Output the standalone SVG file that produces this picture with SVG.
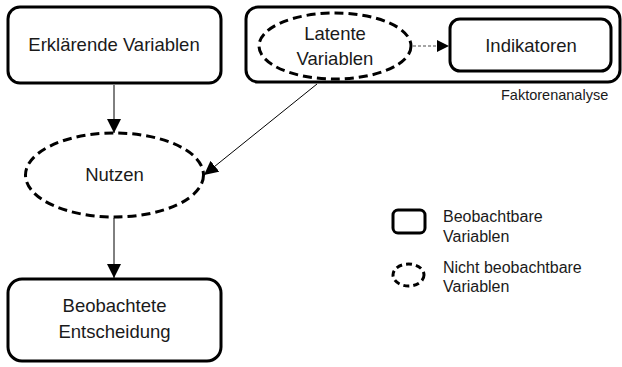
<svg xmlns="http://www.w3.org/2000/svg" width="622" height="367" viewBox="0 0 622 367">
<style>
.box{fill:#fff;stroke:#000;stroke-width:3}
.dash{fill:#fff;stroke:#000;stroke-width:3;stroke-dasharray:9 5}
.t{font-family:"Liberation Sans",Arial,sans-serif;font-size:18.5px;fill:#1a1a1a;text-anchor:middle}
.s{font-family:"Liberation Sans",Arial,sans-serif;font-size:16px;fill:#1a1a1a}
.f{font-family:"Liberation Sans",Arial,sans-serif;font-size:14.5px;fill:#1a1a1a}
.line{stroke:#000;stroke-width:1;fill:none}
</style>
<defs>
<marker id="ahb" viewBox="0 0 10 10" refX="10" refY="5" markerWidth="14" markerHeight="14" markerUnits="userSpaceOnUse" orient="auto">
<path d="M0,0 L10,5 L0,10 z" fill="#000"/>
</marker>
</defs>
<g id="erklaerende">
<rect class="box" x="8" y="7" width="213" height="76" rx="12"/>
<text class="t" x="114" y="51">Erklärende Variablen</text>
</g>
<g id="faktorenanalyse">
<rect class="box" x="246" y="7" width="374" height="75" rx="12"/>
<text class="f" x="501" y="100">Faktorenanalyse</text>
</g>
<g id="latente">
<ellipse class="dash" cx="335" cy="46" rx="76" ry="33"/>
<text class="t" x="335" y="40">Latente</text>
<text class="t" x="335" y="65">Variablen</text>
</g>
<g id="indikatoren">
<rect class="box" x="450" y="19" width="161" height="52" rx="10"/>
<text class="t" x="531" y="52">Indikatoren</text>
</g>
<g id="nutzen">
<ellipse class="dash" cx="114.5" cy="175" rx="89" ry="42"/>
<text class="t" x="114.5" y="181">Nutzen</text>
</g>
<g id="entscheidung">
<rect class="box" x="8" y="279" width="213" height="82" rx="14"/>
<text class="t" x="114.5" y="312">Beobachtete</text>
<text class="t" x="114.5" y="338">Entscheidung</text>
</g>
<g id="legend">
<rect x="393" y="210" width="32" height="23" rx="5" fill="#fff" stroke="#000" stroke-width="3"/>
<text class="s" x="443" y="222">Beobachtbare</text>
<text class="s" x="443" y="242">Variablen</text>
<ellipse cx="408.5" cy="275" rx="15.5" ry="11" fill="#fff" stroke="#000" stroke-width="3" stroke-dasharray="6 4"/>
<text class="s" x="443" y="273">Nicht beobachtbare</text>
<text class="s" x="443" y="292">Variablen</text>
</g>
<g id="connectors">
<line class="line" x1="114" y1="85" x2="114" y2="133" marker-end="url(#ahb)"/>
<line class="line" x1="317" y1="84" x2="204" y2="175" marker-end="url(#ahb)"/>
<line class="line" x1="114" y1="218" x2="114" y2="278" marker-end="url(#ahb)"/>
<line x1="413" y1="46" x2="438" y2="46" stroke="#888" stroke-width="1.5" stroke-dasharray="3 2"/>
<path d="M437,40 L449,46 L437,52 z" fill="#000"/>
</g>
</svg>
